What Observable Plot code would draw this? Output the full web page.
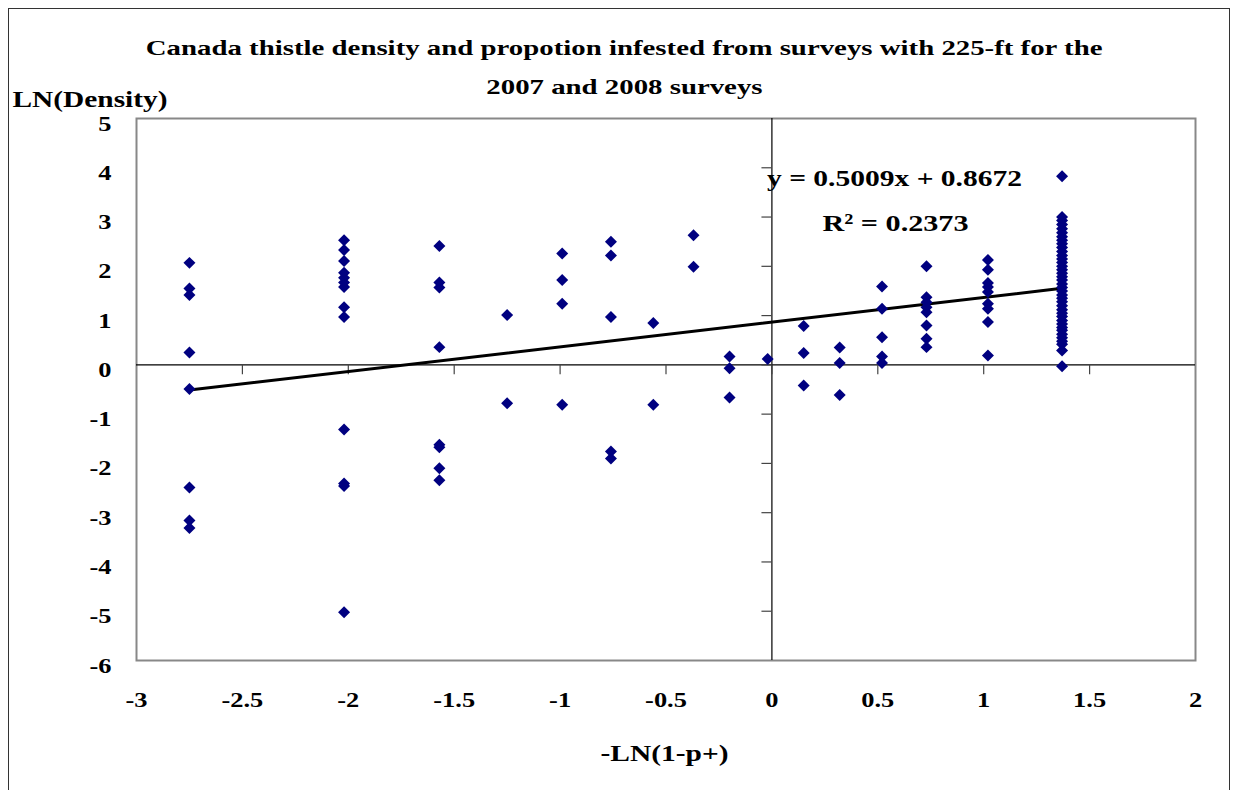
<!DOCTYPE html>
<html>
<head>
<meta charset="utf-8">
<script src="https://cdn.jsdelivr.net/npm/d3@7"></script>
<script src="https://cdn.jsdelivr.net/npm/@observablehq/plot@0.6"></script>
<style>
  html, body { margin: 0; padding: 0; background: #fff; }
  #wrap { position: relative; width: 1235px; height: 790px; overflow: hidden; }
  #frame { position: absolute; left: 8px; top: 8px; width: 1222px; height: 800px;
           border: 1.5px solid #333; border-bottom: none; box-sizing: border-box; }
  #title { position: absolute; left: 0; top: 28px; width: 1248px; text-align: center;
           font-family: "Liberation Serif", "Times New Roman", serif; font-weight: bold;
           font-size: 22px; line-height: 39px; color: #000; }
  #title span { display: inline-block; transform: scaleX(1.31); transform-origin: center; white-space: nowrap; }
  #chart { position: absolute; left: 0; top: 0; }
</style>
</head>
<body>
<div id="wrap">
  <div id="frame"></div>
  <div id="chart"></div>
  <div id="title"><span>Canada thistle density and propotion infested from surveys with 225-ft for the</span><br><span>2007 and 2008 surveys</span></div>
</div>
<script>
// ---- data ----
const xLevels = [-2.75, -2.02, -1.57, -1.25, -0.99, -0.76, -0.56, -0.37, -0.20, -0.02, 0.15, 0.32, 0.52, 0.73, 1.02, 1.37];
const yAtM275 = [2.07, 1.55, 1.42, 0.25, -0.49, -2.49, -3.16, -3.31];
const yAtM202 = [2.53, 2.33, 2.11, 1.87, 1.77, 1.67, 1.58, 1.17, 0.97, -1.31, -2.41, -2.46, -5.02];
const yAtM157 = [2.41, 1.67, 1.57, 0.36, -1.62, -1.67, -2.10, -2.34];
const yAtM125 = [1.01, -0.78];
const yAtM099 = [2.26, 1.72, 1.24, -0.81];
const yAtM076 = [2.50, 2.22, 0.97, -1.76, -1.90];
const yAtM056 = [0.85, -0.81];
const yAtM037 = [2.63, 1.99];
const yAtM020 = [0.17, -0.07, -0.66];
const yAtM002 = [0.12];
const yAtP015 = [0.79, 0.24, -0.42];
const yAtP032 = [0.35, 0.04, -0.61];
const yAtP052 = [1.59, 1.14, 0.56, 0.17, 0.04];
const yAtP073 = [2.00, 1.37, 1.27, 1.17, 1.07, 0.80, 0.53, 0.36];
const yAtP102 = [2.13, 1.93, 1.66, 1.58, 1.48, 1.24, 1.14, 0.87, 0.19];
const yAtP137 = [3.83, 3.00, 2.93, 2.85, 2.76, 2.68, 2.60, 2.53, 2.46, 2.38, 2.30, 2.22, 2.15, 2.08, 2.00,
                 1.93, 1.86, 1.79, 1.72, 1.64, 1.57, 1.50, 1.42, 1.35, 1.28, 1.20, 1.12, 1.05, 0.98, 0.90,
                 0.83, 0.76, 0.70, 0.62, 0.55, 0.48, 0.42, 0.29, -0.03];
const yGroups = [yAtM275, yAtM202, yAtM157, yAtM125, yAtM099, yAtM076, yAtM056, yAtM037, yAtM020,
                 yAtM002, yAtP015, yAtP032, yAtP052, yAtP073, yAtP102, yAtP137];
const slope = 0.5009, intercept = 0.8672, r2 = 0.2373;
const xTicks = [-3, -2.5, -2, -1.5, -1, -0.5, 0, 0.5, 1, 1.5, 2];
const yTicks = [-6, -5, -4, -3, -2, -1, 0, 1, 2, 3, 4, 5];
const xTickLabels = ["-3", "-2.5", "-2", "-1.5", "-1", "-0.5", "0", "0.5", "1", "1.5", "2"];
const yTickLabels = ["-6", "-5", "-4", "-3", "-2", "-1", "0", "1", "2", "3", "4", "5"];
const xTitle = "-LN(1-p+)";
const yTitle = "LN(Density)";

// ---- build table ----
const points = xLevels.flatMap((x, i) => yGroups[i].map(y => ({x, y})));
const xExt = d3.extent(points, d => d.x);
const trend = xExt.map(x => ({x, y: slope * x + intercept}));
const eqText = `y = ${slope}x + ${intercept}`;
const r2Text = `R² = ${r2}`;

const font = "'Liberation Serif', 'Times New Roman', serif";

const chart = Plot.plot({
  width: 1235,
  height: 790,
  marginLeft: 136,
  marginRight: 40,
  marginTop: 118,
  marginBottom: 130,
  style: {fontFamily: font, fontWeight: "bold", fontSize: "22px", color: "#000", background: "transparent"},
  x: {domain: [-3, 2]},
  y: {domain: [-6, 5]},
  marks: [
    Plot.frame({stroke: "#888", strokeWidth: 2}),
    Plot.ruleY([0], {stroke: "#000", strokeWidth: 1.2}),
    Plot.ruleX([0], {stroke: "#000", strokeWidth: 1.2}),
    Plot.ruleX(xTicks.filter(t => t > -3 && t < 2), {x: d => d, y1: 0, y2: -0.2, stroke: "#444", strokeWidth: 1.2}),
    Plot.ruleY(yTicks.filter(t => t > -6 && t < 5), {y: d => d, x1: -0.047, x2: 0, stroke: "#444", strokeWidth: 1.2}),
    Plot.axisX(xTicks, {anchor: "bottom", tickSize: 0, tickPadding: 31, label: null, fontSize: 22, fontWeight: "bold", fill: "#000",
      tickFormat: d => xTickLabels[xTicks.indexOf(d)]}),
    Plot.axisY(yTicks, {anchor: "left", tickSize: 0, tickPadding: 25, label: null, fontSize: 22, fontWeight: "bold", fill: "#000", dy: 5,
      tickFormat: d => yTickLabels[yTicks.indexOf(d)]}),
    Plot.line(trend, {x: "x", y: "y", stroke: "#000", strokeWidth: 3}),
    Plot.dot(points, {x: "x", y: "y", symbol: "diamond2", r: 5.4, fill: "#000080", stroke: "none"}),
    Plot.text([yTitle], {frameAnchor: "top-left", lineAnchor: "middle", dx: -124, dy: -19, textAnchor: "start", fontSize: 24, fontWeight: "bold", fill: "#000"}),
    Plot.text([xTitle], {frameAnchor: "bottom", lineAnchor: "middle", dx: -1.5, dy: 93, fontSize: 24, fontWeight: "bold", fill: "#000"}),
    Plot.text([eqText], {frameAnchor: "top-left", lineAnchor: "middle", dx: 758, dy: 60, textAnchor: "middle", fontSize: 24, fontWeight: "bold", fill: "#000"}),
    Plot.text([r2Text], {frameAnchor: "top-left", lineAnchor: "middle", dx: 759, dy: 105, textAnchor: "middle", fontSize: 24, fontWeight: "bold", fill: "#000"})
  ]
});
document.getElementById("chart").appendChild(chart);

// The reference's lettering is stretched horizontally; widen each text to match.
const targetWidth = {[yTitle]: 155, [xTitle]: 128, [eqText]: 255, [r2Text]: 146};
d3.select(chart).selectAll("text").each(function () {
  const t = this.textContent;
  const w = this.getComputedTextLength();
  if (!w) return;
  const target = targetWidth[t] !== undefined ? targetWidth[t] : w * 1.2;
  this.setAttribute("textLength", target);
  this.setAttribute("lengthAdjust", "spacingAndGlyphs");
});
</script>
</body>
</html>
